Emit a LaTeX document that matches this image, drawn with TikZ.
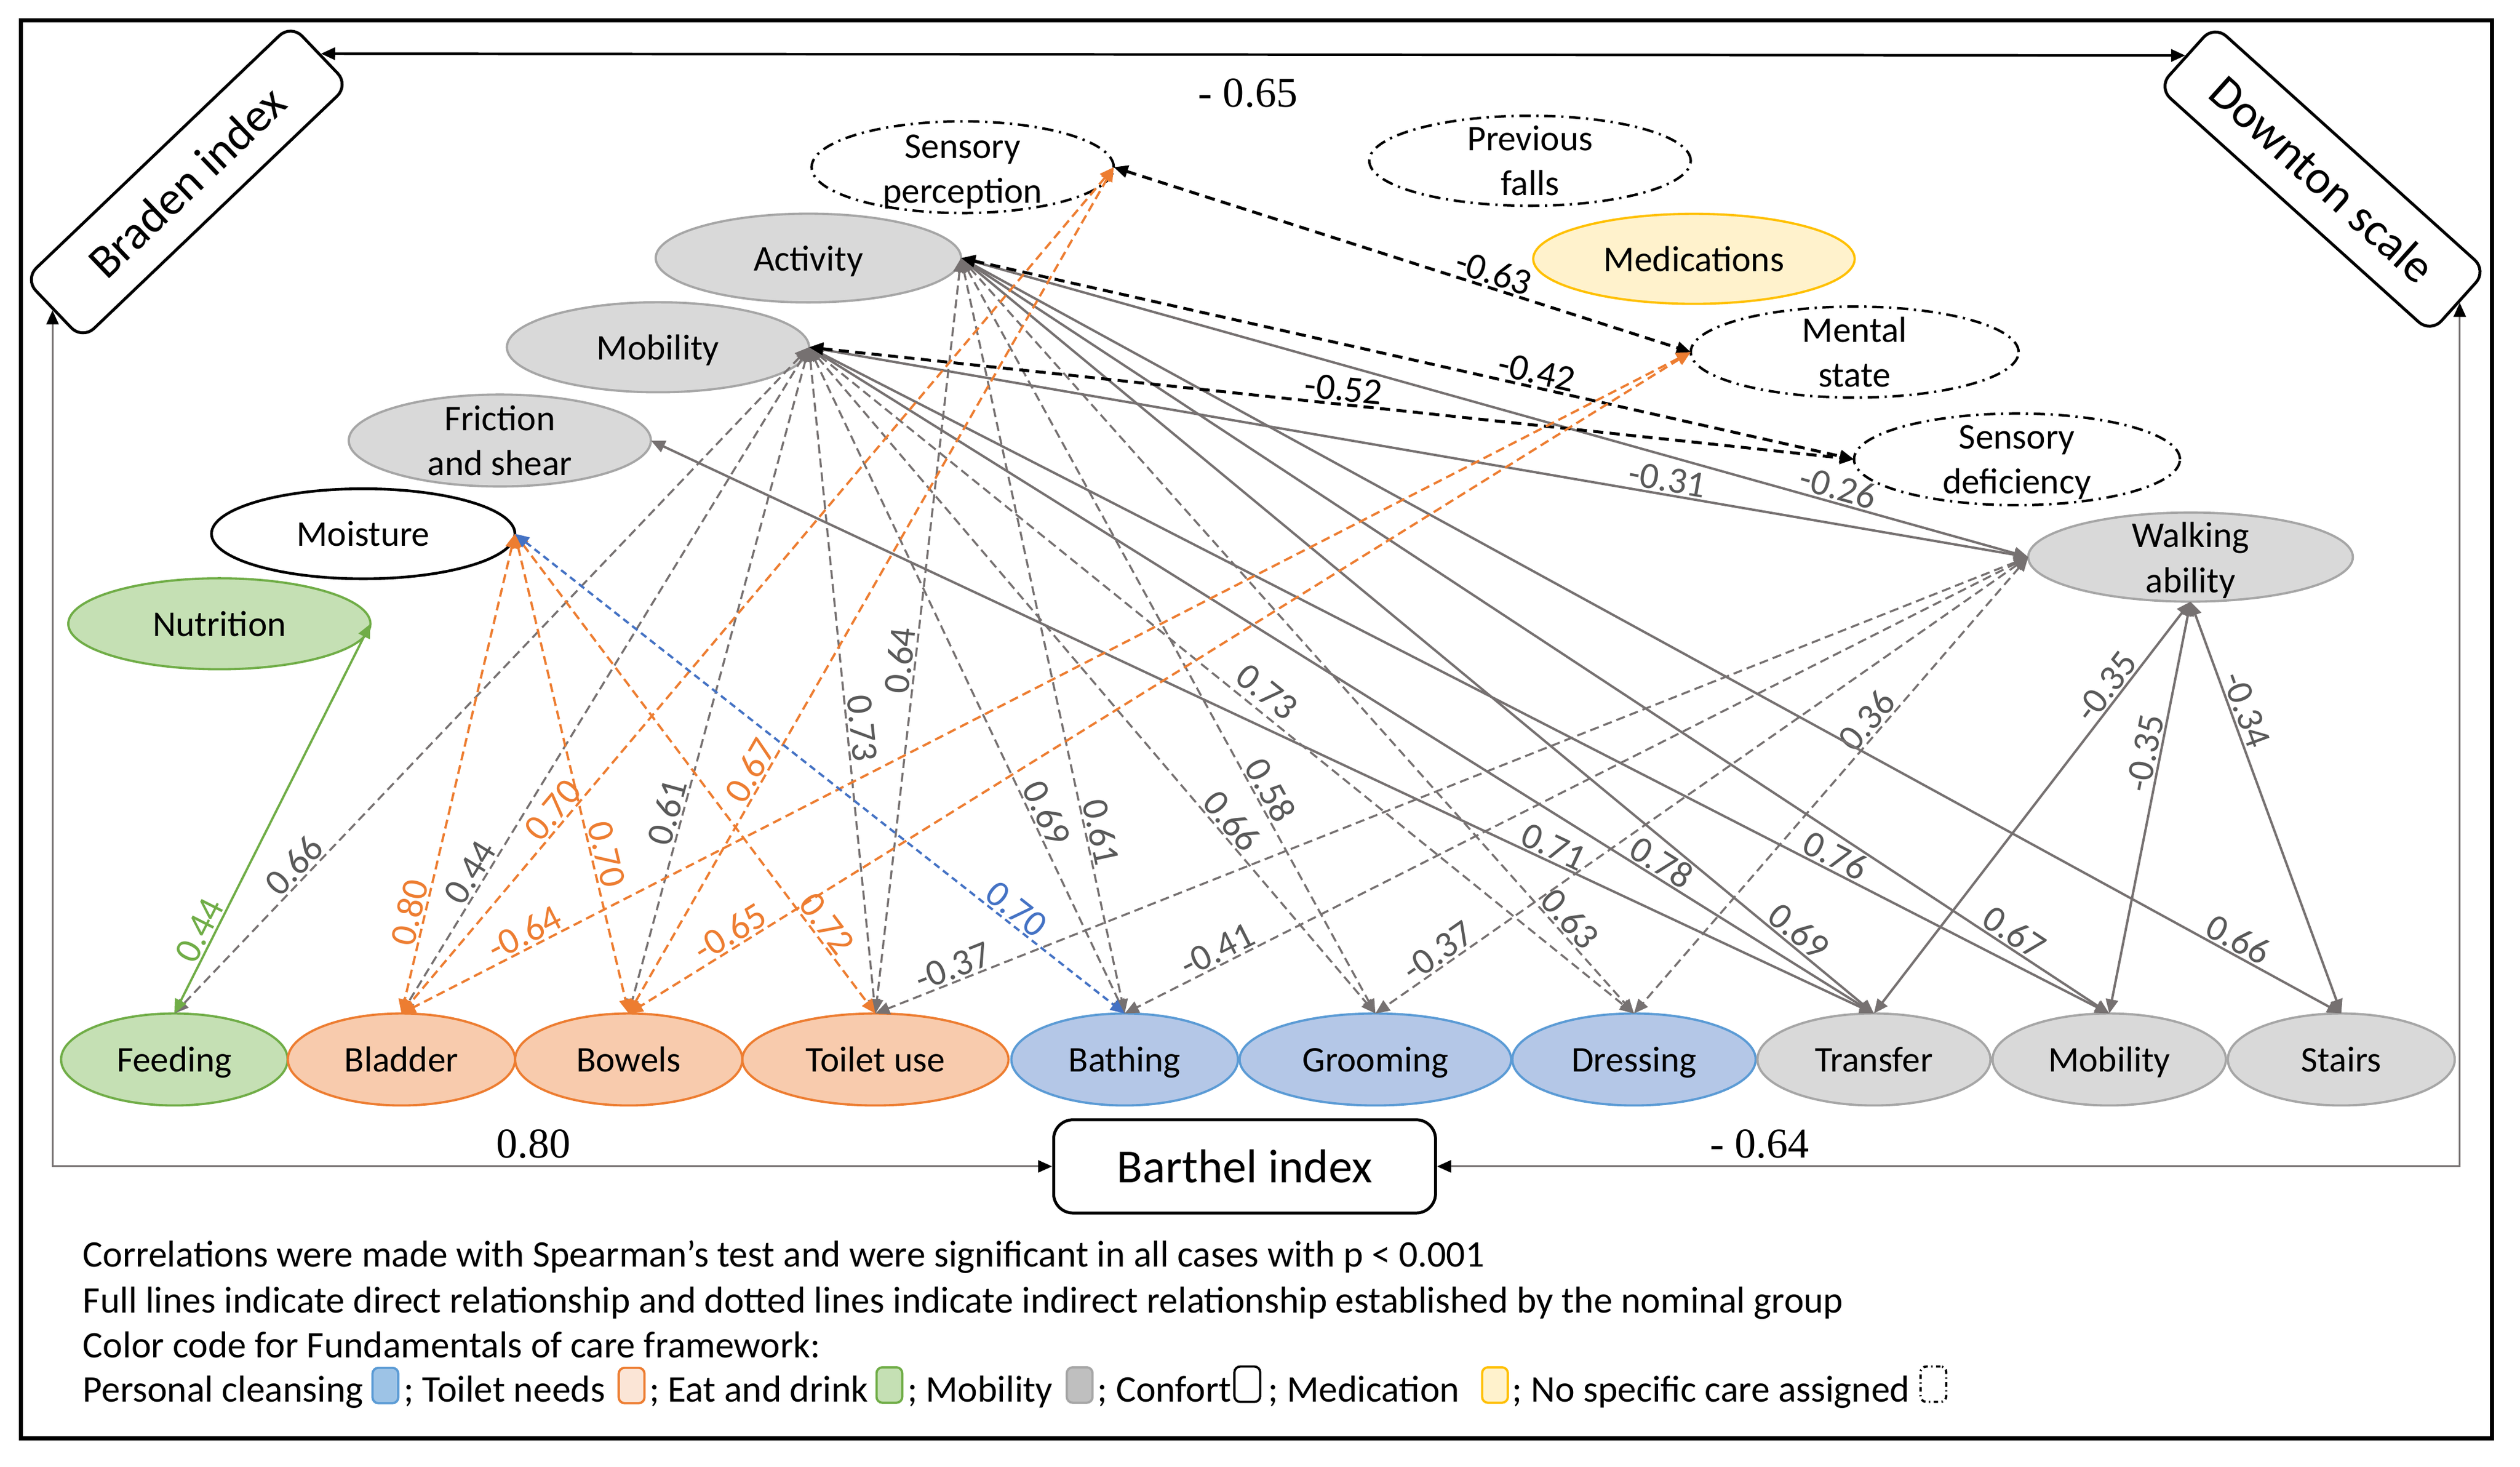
\documentclass[tikz,border=0pt]{standalone}
\usepackage{fontspec}
\setmainfont{Carlito}
\newfontfamily\timesfam{Liberation Serif}
\usetikzlibrary{shapes.geometric,arrows.meta}
\definecolor{lgray}{HTML}{767171}
\definecolor{lblgray}{HTML}{595959}
\definecolor{gfill}{HTML}{D9D9D9}
\definecolor{gdraw}{HTML}{A6A6A6}
\definecolor{ofill}{HTML}{F8CBAD}
\definecolor{odraw}{HTML}{ED7D31}
\definecolor{bfill}{HTML}{B4C7E7}
\definecolor{bdraw}{HTML}{5B9BD5}
\definecolor{grfill}{HTML}{C5E0B4}
\definecolor{grdraw}{HTML}{70AD47}
\definecolor{yfill}{HTML}{FFF2CC}
\definecolor{ydraw}{HTML}{FFC000}
\definecolor{bline}{HTML}{4472C4}
\definecolor{legblue}{HTML}{9DC3E6}
\definecolor{legorange}{HTML}{FBE5D6}
\definecolor{leggray}{HTML}{BFBFBF}
\newcommand\myNodeFont{\fontsize{16}{19.84}\selectfont}
\newcommand\myLblFont{\fontsize{16.5}{19}\selectfont}
\newcommand\myBigFont{\fontsize{21}{25}\selectfont}
\newcommand\myLegFont{\fontsize{16.6}{19.84}\selectfont}
\newcommand\myTimesFont{\timesfam\fontsize{18.8}{22}\selectfont}
\begin{document}
\begin{tikzpicture}[x=0.25mm, y=-0.25mm,
  >={Triangle[length=2.2mm,width=1.9mm]},
  ell/.style={ellipse, inner sep=0pt, outer sep=0pt, line width=1pt, text depth=0pt, font=\myNodeFont},
  gnode/.style={ell, fill=gfill, draw=gdraw},
  onode/.style={ell, fill=ofill, draw=odraw},
  bnode/.style={ell, fill=bfill, draw=bdraw},
  grnode/.style={ell, fill=grfill, draw=grdraw},
  ynode/.style={ell, fill=yfill, draw=ydraw},
  ddnode/.style={ell, draw=black, line width=1.1pt, dash pattern=on 5pt off 2.5pt on 1pt off 2.5pt},
  txt/.style={align=center, inner sep=0pt, font=\myNodeFont},
  idx/.style={draw=black, line width=1.3pt, fill=white, inner sep=0pt, font=\myBigFont},
  gdash/.style={draw=lgray, line width=0.9pt, dash pattern=on 4pt off 2.2pt, <->},
  gsolid/.style={draw=lgray, line width=1.05pt, <->},
  odash/.style={draw=odraw, line width=1pt, dash pattern=on 4pt off 2.2pt, <->},
  bdash/.style={draw=bline, line width=1pt, dash pattern=on 3pt off 2pt, <->},
  kdash/.style={draw=black, line width=1.3pt, dash pattern=on 4.5pt off 2.8pt, <->},
  grsolid/.style={draw=grdraw, line width=1pt, <->},
  bktips/.style={arrows={Triangle[length=2.2mm,width=1.9mm,color=black]-Triangle[length=2.2mm,width=1.9mm,color=black]}},
  lbl/.style={font=\myLblFont, inner sep=0.8pt, sloped, above},
  glbl/.style={lbl, text=lblgray},
  klbl/.style={lbl, text=black},
  olbl/.style={lbl, text=odraw},
  blbl/.style={lbl, text=bline},
  grlbl/.style={lbl, text=grdraw},
  tlbl/.style={font=\myTimesFont, inner sep=0pt},
  leg/.style={font=\myLegFont, inner sep=0pt, anchor=base west},
  legbox/.style={line width=1pt, rounded corners=0.9mm, minimum width=4mm, minimum height=5.5mm, inner sep=0pt}
]
\useasboundingbox (0,0) rectangle (1568,912.13);
\draw[line width=1.85pt] (13,12.6) rectangle (1550.6,894.7);

% index boxes
\node[idx, rounded corners=2.5mm, minimum width=57.3mm, minimum height=13mm, rotate=43.7] (braden) at (116.2,113.2) {Braden index};
\node[idx, rounded corners=2.5mm, minimum width=57mm, minimum height=13mm, rotate=-42] (downton) at (1445.1,111.4) {Downton scale};
\node[idx, rounded corners=3mm, minimum width=59.4mm, minimum height=14.5mm] (barthel) at (774.4,725.5) {Barthel index};

% Braden items
\node[ddnode, minimum width=47mm, minimum height=14.25mm] (sp) at (599,104) {};
\node[txt, yshift=-0.75mm] (spt) at (sp.center) {Sensory\\perception};
\node[gnode, minimum width=47.5mm, minimum height=13.8mm] (act) at (503,160.5) {Activity};
\node[gnode, minimum width=47mm, minimum height=14mm] (mobb) at (409.4,216) {Mobility};
\node[gnode, minimum width=47mm, minimum height=14.3mm] (fric) at (311,274) {};
\node[txt] (frict) at (fric.center) {Friction\\and shear};
\node[ell, draw=black, line width=1.2pt, fill=white, minimum width=47.2mm, minimum height=14mm] (moist) at (226,332) {Moisture};
\node[grnode, minimum width=47mm, minimum height=14.15mm] (nutr) at (136.5,388) {Nutrition};

% Downton items
\node[ddnode, minimum width=50mm, minimum height=14mm] (pf) at (952,100) {};
\node[txt] (pft) at (pf.center) {Previous\\falls};
\node[ynode, minimum width=50mm, minimum height=14mm] (med) at (1054,161) {Medications};
\node[ddnode, minimum width=51mm, minimum height=14.15mm] (ms) at (1154,219) {};
\node[txt] (mst) at (ms.center) {Mental\\state};
\node[ddnode, minimum width=50.7mm, minimum height=14.25mm] (sd) at (1255,285.7) {};
\node[txt, yshift=-0.5mm] (sdt) at (sd.center) {Sensory\\deficiency};
\node[gnode, minimum width=50.5mm, minimum height=13.85mm] (walk) at (1363,346.5) {};
\node[txt, yshift=-0.5mm] (walkt) at (walk.center) {Walking\\ability};

% Barthel items
\node[grnode, minimum width=35.25mm, minimum height=14.3mm] (feed) at (108.5,659) {Feeding};
\node[onode, minimum width=35.35mm, minimum height=14.3mm] (blad) at (249.8,659) {Bladder};
\node[onode, minimum width=35.35mm, minimum height=14.3mm] (bowe) at (391.2,659) {Bowels};
\node[onode, minimum width=41.4mm, minimum height=14.3mm] (toil) at (544.7,659) {Toilet use};
\node[bnode, minimum width=35.25mm, minimum height=14.3mm] (bath) at (699.8,659) {Bathing};
\node[bnode, minimum width=42.25mm, minimum height=14.3mm] (groo) at (855.8,659) {Grooming};
\node[bnode, minimum width=37.85mm, minimum height=14.3mm] (dres) at (1016.7,659) {Dressing};
\node[gnode, minimum width=36.25mm, minimum height=14.3mm] (tran) at (1166,659) {Transfer};
\node[gnode, minimum width=36.3mm, minimum height=14.3mm] (mobw) at (1312.4,659) {Mobility};
\node[gnode, minimum width=35.3mm, minimum height=14.3mm] (stai) at (1456.8,659) {Stairs};

% scale connectors
\draw[black, line width=1.1pt, <->] (braden.east) -- (downton.west);
\draw[lgray, line width=0.8pt, bktips] (braden.west) |- (barthel.west);
\draw[lgray, line width=0.8pt, bktips] (downton.east) |- (barthel.east);
\node[tlbl] (l065) at (776.5,58) {- 0.65};
\node[tlbl] (l080) at (332,711.6) {0.80};
\node[tlbl] (l064) at (1095,711.6) {- 0.64};

% gray dashed from Mobility / Activity
\draw[gdash] (mobb.east) -- node[glbl,pos=0.794]{0.66} (feed.north);
\draw[gdash] (mobb.east) -- node[glbl,pos=0.80]{0.44} (blad.north);
\draw[gdash] (mobb.east) -- node[glbl,pos=0.704]{0.61} (bowe.north);
\draw[gdash] (mobb.east) -- node[glbl,pos=0.574]{0.73} (toil.north);
\draw[gdash] (act.east) -- node[glbl,pos=0.535]{0.64} (toil.north);
\draw[gdash] (mobb.east) -- node[glbl,pos=0.709]{0.69} (bath.north);
\draw[gdash] (act.east) -- node[glbl,pos=0.764]{0.61} (bath.north);
\draw[gdash] (mobb.east) -- node[glbl,pos=0.726]{0.66} (groo.north);
\draw[gdash] (act.east) -- node[glbl,pos=0.714]{0.58} (groo.north);
\draw[gdash] (mobb.east) -- node[glbl,pos=0.54,above=2pt]{0.73} (dres.north);
\draw[gdash] (act.east) -- node[glbl,pos=0.888]{0.63} (dres.north);

% gray dashed from Walking ability
\draw[gdash] (walk.west) -- node[glbl,pos=0.928]{-0.37} (toil.north);
\draw[gdash] (walk.west) -- node[glbl,pos=0.89]{-0.41} (bath.north);
\draw[gdash] (walk.west) -- node[glbl,pos=0.891]{-0.37} (groo.north);
\draw[gdash] (walk.west) -- node[glbl,pos=0.38]{0.36} (dres.north);

% gray solid
\draw[gsolid] (fric.east) -- node[glbl,pos=0.733]{0.71} (tran.north);
\draw[gsolid] (mobb.east) -- node[glbl,pos=0.793]{0.78} (tran.north);
\draw[gsolid] (act.east) -- node[glbl,pos=0.907]{0.69} (tran.north);
\draw[gsolid] (mobb.east) -- node[glbl,pos=0.784]{0.76} (mobw.north);
\draw[gsolid] (act.east) -- node[glbl,pos=0.91]{0.67} (mobw.north);
\draw[gsolid] (act.east) -- node[glbl,pos=0.92]{0.66} (stai.north);
\draw[gsolid] (act.east) -- node[glbl,pos=0.818]{-0.26} (walk.west);
\draw[gsolid] (mobb.east) -- node[glbl,pos=0.702]{-0.31} (walk.west);
\draw[gsolid] (walk.south) -- node[glbl,pos=0.229]{-0.35} (tran.north);
\draw[gsolid] (walk.south) -- node[glbl,pos=0.375]{-0.35} (mobw.north);
\draw[gsolid] (walk.south) -- node[glbl,pos=0.275]{-0.34} (stai.north);

% black dashed
\draw[kdash] (sp.east) -- node[klbl,pos=0.65]{-0.63} (ms.west);
\draw[kdash] (act.east) -- node[klbl,pos=0.641]{-0.42} (sd.west);
\draw[kdash] (mobb.east) -- node[klbl,pos=0.51]{-0.52} (sd.west);

% orange dashed
\draw[odash] (moist.east) -- node[olbl,pos=0.797]{0.80} (blad.north);
\draw[odash] (moist.east) -- node[olbl,pos=0.675]{0.70} (bowe.north);
\draw[odash] (moist.east) -- node[olbl,pos=0.832]{0.72} (toil.north);
\draw[odash] (sp.east) -- node[olbl,pos=0.771]{0.70} (blad.north);
\draw[odash] (sp.east) -- node[olbl,pos=0.722]{0.67} (bowe.north);
\draw[odash] (ms.west) -- node[olbl,pos=0.899]{-0.64} (blad.north);
\draw[odash] (ms.west) -- node[olbl,pos=0.897]{-0.65} (bowe.north);

% blue dashed and green solid
\draw[bdash] (moist.east) -- node[blbl,pos=0.807]{0.70} (bath.north);
\draw[grsolid] (nutr.east) -- node[grlbl,pos=0.804]{0.44} (feed.north);

% legend
\node[leg] (leg1) at (51.4,788.2) {Correlations were made with Spearman’s test and were significant in all cases with p < 0.001};
\node[leg] (leg2) at (51.4,816.5) {Full lines indicate direct relationship and dotted lines indicate indirect relationship established by the nominal group};
\node[leg] (leg3) at (51.4,844.3) {Color code for Fundamentals of care framework:};
\node[leg] (leg4a) at (51.4,872) {Personal cleansing};
\node[legbox, draw=bdraw, fill=legblue] (k1) at (239.8,861.8) {};
\node[leg] (leg4b) at (251,872) {; Toilet needs};
\node[legbox, draw=odraw, fill=legorange] (k2) at (393,861.8) {};
\node[leg] (leg4c) at (403.8,872) {; Eat and drink};
\node[legbox, draw=grdraw, fill=grfill] (k3) at (553.4,861.5) {};
\node[leg] (leg4d) at (564.3,872) {; Mobility};
\node[legbox, draw=gdraw, fill=leggray] (k4) at (671.8,861.5) {};
\node[leg] (leg4e) at (682.6,872) {; Confort};
\node[legbox, draw=black, fill=white] (k5) at (776.1,861) {};
\node[leg] (leg4f) at (789,872) {; Medication};
\node[legbox, draw=ydraw, fill=yfill] (k6) at (930.2,861.5) {};
\node[leg] (leg4g) at (940.7,872) {; No specific care assigned};
\node[legbox, draw=black, dash pattern=on 2pt off 1.5pt on 0.6pt off 1.5pt] (k7) at (1203,861) {};
\end{tikzpicture}
\end{document}
